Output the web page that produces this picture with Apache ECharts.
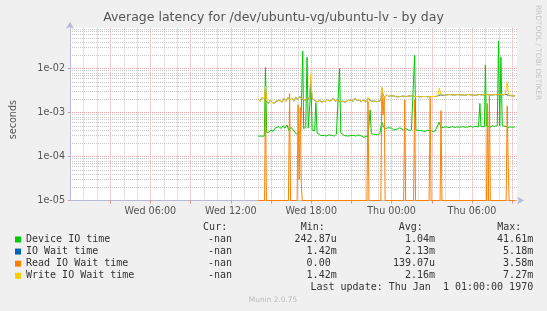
<!DOCTYPE html>
<html><head><meta charset="utf-8">
<script src="https://cdn.jsdelivr.net/npm/echarts@6/dist/echarts.min.js"></script>
<style>html,body{margin:0;padding:0;background:#F0F0F0;}#c{width:547px;height:311px;}</style>
</head><body><div id="c"></div>
<script>
// ---- data (x = hours since Wed 00:00, y = seconds) ----
const seriesNames = ['Device IO time', 'IO Wait time', 'Read IO Wait time', 'Write IO Wait time'];
const seriesColors = ['#00CC00', '#0066B3', '#FF8000', '#FFCC00'];
const xTickLabels = {6: 'Wed 06:00', 12: 'Wed 12:00', 18: 'Wed 18:00', 24: 'Thu 00:00', 30: 'Thu 06:00'};
const statCur = ['-nan', '-nan', '-nan', '-nan'];
const statMin = ['242.87u', '1.42m', '0.00 ', '1.42m'];
const statAvg = ['1.04m', '2.13m', '139.07u', '2.16m'];
const statMax = ['41.61m', '5.18m', '3.58m', '7.27m'];

const deviceIO = [[14.05,2.9e-4],[14.50,2.9e-4],[14.59,1.05e-2],[14.68,3.5e-4],[14.87,3.6e-4],[15.01,4.0e-4],[15.16,3.7e-4],[15.31,4.4e-4],[15.45,4.0e-4],[15.60,4.8e-4],[15.75,4.3e-4],[15.90,5.0e-4],[16.04,4.4e-4],[16.19,5.2e-4],[16.34,3.9e-4],[16.49,4.6e-4],[16.63,4.9e-4],[16.78,3.6e-4],[16.93,3.2e-4],[17.08,3.4e-4],[17.22,3.9e-4],[17.30,4.2e-4],[17.37,2.47e-2],[17.44,4.3e-4],[17.59,4.6e-4],[17.69,1.8e-2],[17.78,4.4e-4],[17.89,4.2e-4],[17.99,4.0e-3],[18.07,4.0e-4],[18.26,3.8e-4],[18.35,1.66e-3],[18.44,3.4e-4],[18.55,3.1e-4],[18.70,3.0e-4],[18.84,3.3e-4],[18.99,3.0e-4],[19.14,2.9e-4],[19.29,3.1e-4],[19.43,3.3e-4],[19.58,3.0e-4],[19.73,2.9e-4],[19.88,3.2e-4],[20.02,3.0e-4],[20.12,1.0e-2],[20.21,3.4e-4],[20.32,3.1e-4],[20.47,3.0e-4],[20.61,3.2e-4],[20.76,2.9e-4],[20.91,3.0e-4],[21.05,2.8e-4],[21.20,3.0e-4],[21.35,2.9e-4],[21.50,3.1e-4],[21.64,2.8e-4],[21.79,2.9e-4],[21.94,2.7e-4],[22.09,2.9e-4],[22.24,2.8e-4],[22.40,1.14e-3],[22.49,3.3e-4],[22.68,3.2e-4],[22.82,3.4e-4],[22.97,3.1e-4],[23.12,3.3e-4],[23.27,6.0e-4],[23.42,4.6e-4],[23.57,4.3e-4],[23.72,4.5e-4],[23.86,4.1e-4],[24.01,4.4e-4],[24.16,4.0e-4],[24.30,4.3e-4],[24.45,4.2e-4],[24.60,4.5e-4],[24.74,4.1e-4],[24.89,4.0e-4],[25.04,4.3e-4],[25.18,4.1e-4],[25.33,3.9e-4],[25.48,4.0e-4],[25.62,4.2e-4],[25.72,2.0e-2],[25.81,4.0e-4],[25.92,3.8e-4],[26.07,3.9e-4],[26.21,3.7e-4],[26.36,3.8e-4],[26.51,3.7e-4],[26.66,3.9e-4],[26.80,3.7e-4],[26.95,3.8e-4],[27.10,3.7e-4],[27.25,3.8e-4],[27.39,3.7e-4],[27.56,6.0e-4],[27.69,4.4e-4],[27.84,4.6e-4],[27.98,4.4e-4],[28.13,4.7e-4],[28.28,4.5e-4],[28.42,4.6e-4],[28.57,4.8e-4],[28.72,4.5e-4],[28.87,4.7e-4],[29.01,4.9e-4],[29.16,4.6e-4],[29.31,4.8e-4],[29.46,4.6e-4],[29.60,5.0e-4],[29.75,4.7e-4],[29.90,4.9e-4],[30.05,4.6e-4],[30.20,4.8e-4],[30.34,4.6e-4],[30.49,4.7e-4],[30.59,1.6e-3],[30.67,4.8e-4],[30.78,4.6e-4],[30.93,4.7e-4],[31.00,1.2e-2],[31.08,5.0e-4],[31.22,4.8e-4],[31.37,4.6e-4],[31.52,5.0e-4],[31.67,4.8e-4],[31.81,5.2e-4],[31.89,5.0e-4],[31.98,4.16e-2],[32.07,5.0e-4],[32.16,1.8e-2],[32.26,5.0e-4],[32.40,4.6e-4],[32.55,4.8e-4],[32.70,4.5e-4],[32.85,4.7e-4],[33.00,4.6e-4],[33.22,4.7e-4]];

const ioWait = [[14.05,2.0e-3],[14.20,1.8e-3],[14.35,2.2e-3],[14.50,2.0e-3],[14.59,3.5e-3],[14.68,1.8e-3],[14.80,1.6e-3],[14.94,1.9e-3],[15.08,1.7e-3],[15.23,1.6e-3],[15.38,1.8e-3],[15.52,1.65e-3],[15.67,1.9e-3],[15.82,1.7e-3],[15.97,2.1e-3],[16.12,1.8e-3],[16.27,2.2e-3],[16.41,1.9e-3],[16.56,2.1e-3],[16.71,1.8e-3],[16.85,2.2e-3],[17.00,2.0e-3],[17.15,2.3e-3],[17.30,2.0e-3],[17.44,2.2e-3],[17.59,1.9e-3],[17.74,2.2e-3],[17.89,2.0e-3],[17.96,5.18e-3],[18.07,2.1e-3],[18.19,1.9e-3],[18.33,1.8e-3],[18.48,1.75e-3],[18.63,1.9e-3],[18.77,1.7e-3],[18.92,1.8e-3],[19.07,1.75e-3],[19.21,2.0e-3],[19.36,1.8e-3],[19.51,1.9e-3],[19.66,2.1e-3],[19.80,1.8e-3],[19.95,1.9e-3],[20.10,1.75e-3],[20.24,1.9e-3],[20.39,1.8e-3],[20.54,1.7e-3],[20.69,1.85e-3],[20.83,1.75e-3],[20.98,1.9e-3],[21.13,1.8e-3],[21.28,2.1e-3],[21.42,1.85e-3],[21.57,1.95e-3],[21.72,1.75e-3],[21.87,1.9e-3],[22.01,1.8e-3],[22.16,1.75e-3],[22.24,2.1e-3],[22.31,1.9e-3],[22.46,1.8e-3],[22.60,1.75e-3],[22.75,1.8e-3],[22.90,1.75e-3],[23.05,1.8e-3],[23.20,1.9e-3],[23.27,3.4e-3],[23.36,2.5e-3],[23.50,2.2e-3],[23.64,2.5e-3],[23.79,2.3e-3],[23.94,2.4e-3],[24.08,2.2e-3],[24.23,2.35e-3],[24.38,2.25e-3],[24.52,2.4e-3],[24.67,2.3e-3],[24.82,2.35e-3],[24.96,2.5e-3],[25.11,2.3e-3],[25.26,2.35e-3],[25.40,2.25e-3],[25.55,2.4e-3],[25.70,2.3e-3],[25.84,2.35e-3],[25.99,2.3e-3],[26.14,2.25e-3],[26.29,2.3e-3],[26.43,2.35e-3],[26.58,2.3e-3],[26.73,2.25e-3],[26.88,2.3e-3],[27.02,2.35e-3],[27.17,2.3e-3],[27.32,2.3e-3],[27.47,2.4e-3],[27.56,2.6e-3],[27.65,2.5e-3],[27.76,2.5e-3],[27.91,2.45e-3],[28.06,2.5e-3],[28.20,2.45e-3],[28.35,2.55e-3],[28.50,2.5e-3],[28.64,2.7e-3],[28.79,2.5e-3],[28.94,2.55e-3],[29.09,2.5e-3],[29.23,2.6e-3],[29.38,2.5e-3],[29.53,2.45e-3],[29.68,2.55e-3],[29.82,2.7e-3],[29.97,2.5e-3],[30.12,2.5e-3],[30.27,2.45e-3],[30.41,2.5e-3],[30.56,2.55e-3],[30.71,2.5e-3],[30.86,2.5e-3],[31.00,2.6e-3],[31.15,2.55e-3],[31.30,2.5e-3],[31.44,2.6e-3],[31.59,2.5e-3],[31.74,2.55e-3],[31.89,2.5e-3],[32.03,2.6e-3],[32.18,2.55e-3],[32.33,2.5e-3],[32.48,2.6e-3],[32.63,2.5e-3],[32.70,2.5e-3],[32.77,2.4e-3],[32.92,2.4e-3],[33.07,2.35e-3],[33.22,2.4e-3]];

const readWait = [[14.05,0],[14.52,0],[14.59,3.2e-3],[14.66,0],[16.30,0],[16.39,2.7e-3],[16.46,0],[16.95,0],[17.02,1.5e-3],[17.10,3e-5],[17.19,1.3e-3],[17.26,2.5e-5],[17.33,0],[22.16,0],[22.24,1.75e-3],[22.31,0],[23.20,0],[23.27,3.58e-3],[23.36,8.7e-4],[23.45,2.2e-3],[23.52,0],[24.90,0],[24.98,1.9e-3],[25.05,0],[25.64,0],[25.72,1.9e-3],[25.79,0],[26.80,0],[26.88,2.2e-3],[26.95,0],[27.62,0],[27.69,1.1e-3],[27.76,0],[31.08,0],[31.15,1.6e-3],[31.22,0],[31.25,0],[31.30,2.6e-3],[31.37,0],[32.55,0],[32.63,1.4e-3],[32.70,7e-5],[32.77,0],[33.22,0]];

const writeWait = [[14.05,2.0e-3],[14.20,1.8e-3],[14.35,2.2e-3],[14.50,2.0e-3],[14.59,4.0e-3],[14.68,1.8e-3],[14.80,1.6e-3],[14.94,1.9e-3],[15.08,1.7e-3],[15.23,1.6e-3],[15.38,1.8e-3],[15.52,1.65e-3],[15.67,1.9e-3],[15.82,1.7e-3],[15.97,2.1e-3],[16.12,1.8e-3],[16.27,2.2e-3],[16.41,1.9e-3],[16.56,2.1e-3],[16.71,1.8e-3],[16.85,2.2e-3],[17.00,2.0e-3],[17.15,2.3e-3],[17.30,2.0e-3],[17.44,2.2e-3],[17.59,1.9e-3],[17.74,2.2e-3],[17.89,2.0e-3],[17.96,7.27e-3],[18.07,2.1e-3],[18.19,1.9e-3],[18.33,1.8e-3],[18.48,1.75e-3],[18.63,1.9e-3],[18.77,1.7e-3],[18.92,1.8e-3],[19.07,1.75e-3],[19.21,2.0e-3],[19.36,1.8e-3],[19.51,1.9e-3],[19.66,2.1e-3],[19.80,1.8e-3],[19.95,1.9e-3],[20.10,1.75e-3],[20.24,1.9e-3],[20.39,1.8e-3],[20.54,1.7e-3],[20.69,1.85e-3],[20.83,1.75e-3],[20.98,1.9e-3],[21.13,1.8e-3],[21.28,2.1e-3],[21.42,1.85e-3],[21.57,1.95e-3],[21.72,1.75e-3],[21.87,1.9e-3],[22.01,1.8e-3],[22.16,1.75e-3],[22.24,2.2e-3],[22.31,1.9e-3],[22.46,1.8e-3],[22.60,1.75e-3],[22.75,1.8e-3],[22.90,1.75e-3],[23.05,1.8e-3],[23.20,1.9e-3],[23.27,3.8e-3],[23.36,2.6e-3],[23.50,2.2e-3],[23.64,2.5e-3],[23.79,2.3e-3],[23.94,2.4e-3],[24.08,2.2e-3],[24.23,2.35e-3],[24.38,2.25e-3],[24.52,2.4e-3],[24.67,2.3e-3],[24.82,2.35e-3],[24.96,2.5e-3],[25.11,2.3e-3],[25.26,2.35e-3],[25.40,2.25e-3],[25.55,2.4e-3],[25.70,2.3e-3],[25.84,2.35e-3],[25.99,2.3e-3],[26.14,2.25e-3],[26.29,2.3e-3],[26.43,2.35e-3],[26.58,2.3e-3],[26.73,2.25e-3],[26.88,2.3e-3],[27.02,2.35e-3],[27.17,2.3e-3],[27.32,2.3e-3],[27.47,2.4e-3],[27.56,3.6e-3],[27.65,2.7e-3],[27.76,2.5e-3],[27.91,2.45e-3],[28.06,2.5e-3],[28.20,2.45e-3],[28.35,2.55e-3],[28.50,2.5e-3],[28.64,2.7e-3],[28.79,2.5e-3],[28.94,2.55e-3],[29.09,2.5e-3],[29.23,2.6e-3],[29.38,2.5e-3],[29.53,2.45e-3],[29.68,2.55e-3],[29.82,2.7e-3],[29.97,2.5e-3],[30.12,2.5e-3],[30.27,2.45e-3],[30.41,2.5e-3],[30.56,2.55e-3],[30.71,2.5e-3],[30.86,2.5e-3],[31.00,2.6e-3],[31.15,2.55e-3],[31.30,2.5e-3],[31.44,2.6e-3],[31.59,2.5e-3],[31.74,2.55e-3],[31.89,2.5e-3],[32.03,2.6e-3],[32.18,2.55e-3],[32.33,2.5e-3],[32.48,2.6e-3],[32.63,5.0e-3],[32.70,2.9e-3],[32.77,2.4e-3],[32.92,2.4e-3],[33.07,2.35e-3],[33.22,2.4e-3]];

// ---- chart ----
const Y_MIN = 1e-5, Y_MAX = 0.084, X_MIN = 0, X_MAX = 33.36;
const SANS = 'DejaVu Sans', MONO = 'DejaVu Sans Mono';
const clamp = arr => arr.map(p => [p[0], Math.max(p[1], Y_MIN)]);

// minor grid positions (hourly / 2..9 per decade)
const minorXPos = [];
for (let h = 1; h < X_MAX; h++) if (h % 3 !== 0) minorXPos.push([h, Y_MIN]);
const minorYPos = [];
for (let e = -5; e <= -2; e++) for (let m = 2; m <= 9; m++) { const v = m * Math.pow(10, e); if (v < Y_MAX) minorYPos.push([X_MIN, v]); }

const gridStyle = {stroke: '#c8c8c8', lineDash: [1, 1], lineWidth: 1};
const chart = echarts.init(document.getElementById('c'), null, {renderer: 'canvas'});
const dataSets = [deviceIO, ioWait, readWait, writeWait];
const series = [
  {name: 'minorX', type: 'custom', silent: true, z: 1, data: minorXPos, encode: {x: 0, y: 1}, clip: false,
   renderItem: (params, api) => {
     const cs = params.coordSys; const p = api.coord([api.value(0), Y_MIN]);
     const x = Math.round(p[0]) + 0.5;
     return {type: 'line', silent: true, shape: {x1: x, y1: cs.y, x2: x, y2: cs.y + cs.height}, style: gridStyle};
   }},
  {name: 'minorY', type: 'custom', silent: true, z: 1, data: minorYPos, encode: {x: 0, y: 1}, clip: false,
   renderItem: (params, api) => {
     const cs = params.coordSys; const p = api.coord([X_MIN, api.value(1)]);
     const y = Math.round(p[1]) + 0.5;
     return {type: 'line', silent: true, shape: {x1: cs.x, y1: y, x2: cs.x + cs.width, y2: y}, style: gridStyle};
   }}
];
dataSets.forEach((d, i) => series.push({
  name: seriesNames[i], type: 'line', data: clamp(d), showSymbol: false, symbol: 'none',
  lineStyle: {width: 1, color: seriesColors[i]}, itemStyle: {color: seriesColors[i]},
  z: 2 + i, animation: false, clip: true
}));

const gtext = (x, y, text, align) => ({type: 'text', x, y, silent: true,
  style: {text, x: 0, y: 0, align: align, verticalAlign: 'middle', font: '10px "' + MONO + '"', fill: '#333'}});
const graphics = [];
graphics.push(gtext(203.1, 227.7, 'Cur:', 'left'));
graphics.push(gtext(300.8, 227.7, 'Min:', 'left'));
graphics.push(gtext(398.8, 227.7, 'Avg:', 'left'));
graphics.push(gtext(497.2, 227.7, 'Max:', 'left'));
const rowY = [239.5, 251.6, 263.7, 275.8];
for (let i = 0; i < 4; i++) {
  graphics.push(gtext(232.0, rowY[i], statCur[i], 'right'));
  graphics.push(gtext(336.7, rowY[i], statMin[i], 'right'));
  graphics.push(gtext(435.1, rowY[i], statAvg[i], 'right'));
  graphics.push(gtext(533.2, rowY[i], statMax[i], 'right'));
}
graphics.push(gtext(533.2, 287.8, 'Last update: Thu Jan  1 01:00:00 1970', 'right'));
graphics.push({type: 'text', x: 273, y: 300, silent: true,
  style: {text: 'Munin 2.0.75', align: 'center', verticalAlign: 'middle', font: '7.4px "' + SANS + '"', fill: '#bbbbbb'}});
graphics.push({type: 'text', x: 538, y: 52.5, rotation: -Math.PI / 2, silent: true,
  style: {text: 'RRDTOOL / TOBI OETIKER', align: 'center', verticalAlign: 'middle', font: '7.4px "' + SANS + '"', fill: '#c4c4c4'}});

chart.setOption({
  backgroundColor: '#F0F0F0',
  animation: false,
  title: {text: 'Average latency for /dev/ubuntu-vg/ubuntu-lv - by day', left: 'center', top: 11, padding: 0,
    textStyle: {fontFamily: SANS, fontSize: 12.5, fontWeight: 'normal', color: '#555555'}},
  legend: {orient: 'vertical', left: 15, top: 233.4, padding: 0, itemWidth: 6, itemHeight: 6, itemGap: 0,
    icon: 'rect', selectedMode: false, data: seriesNames,
    textStyle: {fontFamily: MONO, fontSize: 10, color: '#333', lineHeight: 12.1}},
  grid: {left: 65, right: 30, top: 27.7, bottom: 110.5, show: true, backgroundColor: '#FFFFFF', borderWidth: 0, containLabel: false},
  xAxis: {type: 'value', min: X_MIN, max: X_MAX, interval: 3,
    axisLine: {onZero: false, lineStyle: {color: '#b8b8d8', width: 1}, symbol: ['none', 'arrow'], symbolSize: [6, 7], symbolOffset: [0, 7]},
    axisTick: {show: true, length: 3, lineStyle: {color: '#e09090'}},
    axisLabel: {margin: 6, fontFamily: SANS, fontSize: 9.6, color: '#555555', showMaxLabel: false, showMinLabel: false,
      formatter: v => { const r = Math.round(v); return (Math.abs(v - r) < 1e-6 && xTickLabels[r]) ? xTickLabels[r] : ''; }},
    splitLine: {show: true, showMinLine: false, showMaxLine: false, lineStyle: {color: '#eaa0a0', type: [1, 1], width: 1}}},
  yAxis: {type: 'log', logBase: 10, min: Y_MIN, max: Y_MAX,
    name: 'seconds', nameLocation: 'middle', nameGap: 52, nameRotate: 90,
    nameTextStyle: {fontFamily: SANS, fontSize: 9.6, color: '#555555', padding: [0, 11, 0, 0]},
    axisLine: {lineStyle: {color: '#b8b8d8', width: 1}, symbol: ['none', 'arrow'], symbolSize: [6, 7], symbolOffset: [0, 6]},
    axisTick: {show: true, length: 2, lineStyle: {color: '#e09090'}},
    axisLabel: {margin: 5, fontFamily: SANS, fontSize: 9.6, color: '#555555', showMaxLabel: false,
      formatter: v => { const l = Math.log10(v), e = Math.round(l); if (Math.abs(l - e) > 1e-6) return ''; return '1e-' + String(-e).padStart(2, '0'); }},
    splitLine: {show: true, showMaxLine: false, showMinLine: false, lineStyle: {color: '#eaa0a0', type: [1, 1], width: 1}}},
  series: series,
  graphic: graphics
});
</script></body></html>
